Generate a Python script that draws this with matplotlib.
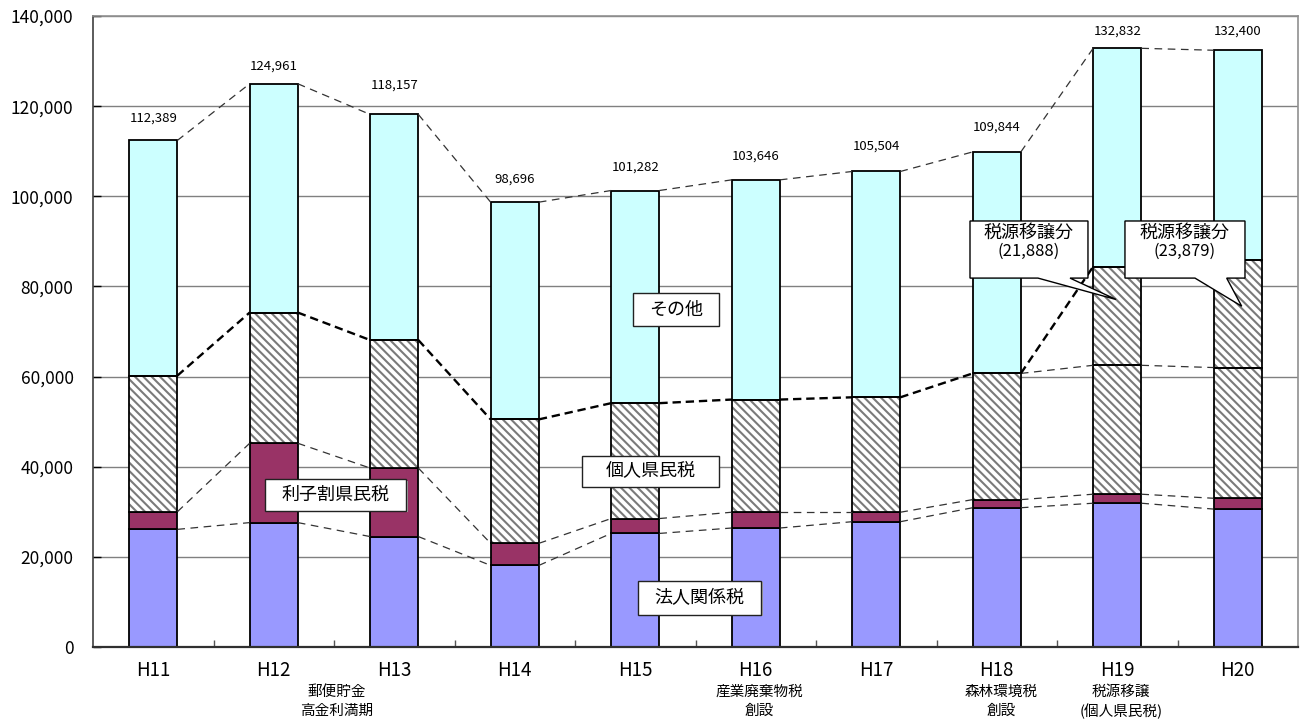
import matplotlib
matplotlib.use("Agg")
import matplotlib.pyplot as plt
import matplotlib.patches as mpatches
from matplotlib.transforms import offset_copy
import numpy as np

plt.rcParams['font.family'] = ['Noto Sans CJK JP', 'DejaVu Sans']
plt.rcParams['lines.scale_dashes'] = False
plt.rcParams['hatch.linewidth'] = 1.5

# 県税収入の推移（百万円）
years = ['H11', 'H12', 'H13', 'H14', 'H15', 'H16', 'H17', 'H18', 'H19', 'H20']
totals = [112389, 124961, 118157, 98696, 101282, 103646, 105504, 109844, 132832, 132400]
corporate = [26100, 27600, 24500, 18100, 25200, 26400, 27800, 30900, 31900, 30600]
interest = [3900, 17600, 15200, 4900, 3300, 3500, 2100, 1800, 2000, 2400]
individual = [30200, 29000, 28400, 27500, 25600, 25000, 25500, 28000, 28600, 29000]
transfer = [0, 0, 0, 0, 0, 0, 0, 0, 21888, 23879]
yticks = [0, 20000, 40000, 60000, 80000, 100000, 120000, 140000]

event_pos = [1.52, 5.03, 7.04, 8.03]
event_text = [('郵便貯金', '高金利満期'), ('産業廃棄物税', '創設'),
              ('森林環境税', '創設'), ('税源移譲', '(個人県民税)')]

C_CORP = '#9999FF'
C_INT = '#993366'
C_OTHER = '#CCFFFF'
C_HATCH = '#7a7a7a'

corp = np.array(corporate, dtype=float)
intr = np.array(interest, dtype=float)
indv = np.array(individual, dtype=float)
trans = np.array(transfer, dtype=float)
tot = np.array(totals, dtype=float)

lvl1 = corp
lvl2 = lvl1 + intr
lvl3 = lvl2 + indv
lvl4 = lvl3 + trans
other = tot - lvl4

fig = plt.figure(figsize=(13.03, 7.2), dpi=100)
ax = fig.add_axes([93 / 1303, 73 / 720, 1205 / 1303, 631 / 720])

x = np.arange(len(years))
w = 0.4
ekw = dict(edgecolor='black', linewidth=1.3)

ax.bar(x, corp, w, color=C_CORP, zorder=2, **ekw)
ax.bar(x, intr, w, bottom=lvl1, color=C_INT, zorder=2, **ekw)
# 個人県民税（斜線）
ax.bar(x, indv, w, bottom=lvl2, facecolor='white', edgecolor=C_HATCH,
       hatch='\\\\\\\\', linewidth=0, zorder=2)
ax.bar(x, indv, w, bottom=lvl2, facecolor='none', zorder=2.1, **ekw)
m = trans > 0
ax.bar(x[m], trans[m], w, bottom=lvl3[m], facecolor='white', edgecolor=C_HATCH,
       hatch='\\\\\\\\', linewidth=0, zorder=2)
ax.bar(x[m], trans[m], w, bottom=lvl3[m], facecolor='none', zorder=2.1, **ekw)
ax.bar(x, other, w, bottom=lvl4, color=C_OTHER, zorder=2, **ekw)

# 年度間をつなぐ破線
thin = dict(color='#333333', lw=0.9, ls=(0, (5.5, 4)), zorder=3)
bold = dict(color='black', lw=1.7, ls=(0, (6, 3.5)), zorder=3)
for i in range(len(x) - 1):
    xa, xb = x[i] + w / 2, x[i + 1] - w / 2
    ax.plot([xa, xb], [lvl1[i], lvl1[i + 1]], **thin)
    ax.plot([xa, xb], [lvl2[i], lvl2[i + 1]], **thin)
    if trans[i] > 0 or trans[i + 1] > 0:
        ax.plot([xa, xb], [lvl3[i], lvl3[i + 1]], **thin)
    ax.plot([xa, xb], [lvl4[i], lvl4[i + 1]], **bold)
    ax.plot([xa, xb], [tot[i], tot[i + 1]], **thin)

# 合計値
label_gap_px = [22, 18, 29, 23, 23, 24, 25, 25, 17, 19]
for xi, v, g in zip(x, totals, label_gap_px):
    ax.annotate(f'{v:,}', (xi, v), xytext=(0, g * 0.72), textcoords='offset points',
                ha='center', va='center', fontsize=9.5, zorder=6)

# 軸
ax.set_xlim(-0.5, 9.5)
ax.set_ylim(0, 140000)
ax.set_yticks(yticks)
ax.set_yticklabels([f'{v:,}' for v in yticks])
ax.set_xticks(x)
ax.set_xticklabels(years, fontsize=13.5)
ax.set_xticks(np.arange(0.5, len(x) - 1, 1), minor=True)
ax.tick_params(axis='x', which='major', length=0, pad=9)
ax.tick_params(axis='x', which='minor', direction='in', length=5, width=1, color='#555555')
ax.tick_params(axis='y', direction='in', length=6, width=1, pad=14, labelsize=12.5)
ax.yaxis.grid(True, color='#808080', lw=1)
ax.set_axisbelow(True)
for s in ('top', 'right'):
    ax.spines[s].set_color('#909090')
    ax.spines[s].set_linewidth(1.2)
ax.spines['left'].set_color('#404040')
ax.spines['left'].set_linewidth(1.2)
ax.spines['bottom'].set_color('#303030')
ax.spines['bottom'].set_linewidth(1.6)

# 説明ボックス
shadow_tr = offset_copy(ax.transData, fig=fig, x=1.5, y=-1.5, units='dots')


def label_box(x0, x1, y0, y1, text, size=13):
    ax.add_patch(mpatches.Rectangle((x0, y0), x1 - x0, y1 - y0, transform=shadow_tr,
                                    facecolor='#a8a8a8', edgecolor='none', zorder=4))
    ax.add_patch(mpatches.Rectangle((x0, y0), x1 - x0, y1 - y0, facecolor='white',
                                    edgecolor='#222222', lw=1, zorder=4.1))
    ax.text((x0 + x1) / 2, (y0 + y1) / 2, text, ha='center', va='center',
            fontsize=size, zorder=4.2)


label_box(3.981, 4.695, 71330, 78440, 'その他')
label_box(3.558, 4.695, 35560, 42440, '個人県民税')
label_box(0.925, 2.098, 30220, 37270, '利子割県民税')
label_box(4.023, 5.044, 7110, 14670, '法人関係税')


def callout(x0, x1, y0, y1, b0, b1, tip, amount):
    verts = [(x0, y1), (x1, y1), (x1, y0), (b1, y0), tip, (b0, y0), (x0, y0)]
    ax.add_patch(mpatches.Polygon(verts, closed=True, facecolor='white',
                                  edgecolor='black', lw=1, zorder=5))
    cx = (x0 + x1) / 2
    ax.text(cx, y1 - (y1 - y0) * 0.21, '税源移譲分', ha='center', va='center',
            fontsize=13, zorder=5.1)
    ax.text(cx, y1 - (y1 - y0) * 0.54, f'({amount:,})', ha='center', va='center',
            fontsize=12, zorder=5.1)


callout(6.778, 7.757, 81850, 94520, 7.342, 7.608, (7.990, 77100), transfer[8])
callout(8.064, 9.060, 81850, 94520, 8.645, 8.908, (9.033, 75600), transfer[9])

# 制度改正などの注記
for px, (l1, l2) in zip(event_pos, event_text):
    ax.annotate(l1, (px, 0), xycoords=('data', 'axes fraction'), xytext=(0, -45 * 0.72),
                textcoords='offset points', ha='center', va='center', fontsize=10.5)
    ax.annotate(l2, (px, 0), xycoords=('data', 'axes fraction'), xytext=(0, -64 * 0.72),
                textcoords='offset points', ha='center', va='center', fontsize=10.5)

fig.savefig('out.png', dpi=100, facecolor='white')
